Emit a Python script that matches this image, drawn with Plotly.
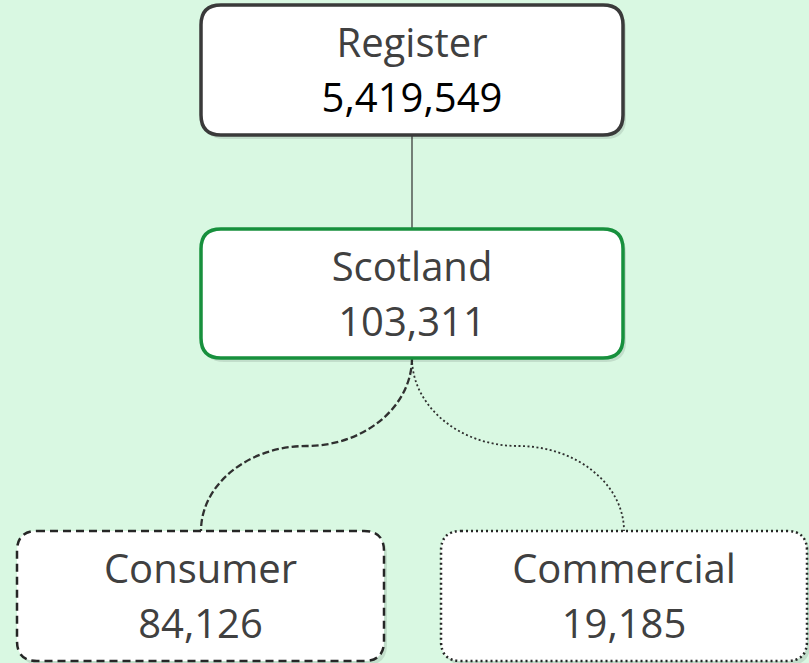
import plotly.graph_objects as go

# chart content
labels = ["Register", "Scotland", "Consumer", "Commercial"]
counts = [5419549, 103311, 84126, 19185]

W, H = 809, 663
BG = "#d9f8e2"
TXT = "#404040"

# box geometry in pixels (x0, y0, x1, y1)
boxes = [(201, 5, 623, 135), (201, 229, 623, 358), (17, 531, 384, 661), (441, 531, 807, 661)]
borders = [
    dict(color="#3a3a3a", width=3.5),
    dict(color="#17903d", width=3.5),
    dict(color="#262626", width=2.5, dash="8px,5px"),
    dict(color="#262626", width=2.5, dash="2px,3px"),
]
number_colors = ["#000000", TXT, TXT, TXT]


def rounded(x0, y0, x1, y1, r=20):
    return (f"M {x0+r},{y0} L {x1-r},{y0} Q {x1},{y0} {x1},{y0+r} "
            f"L {x1},{y1-r} Q {x1},{y1} {x1-r},{y1} "
            f"L {x0+r},{y1} Q {x0},{y1} {x0},{y1-r} "
            f"L {x0},{y0+r} Q {x0},{y0} {x0+r},{y0} Z")


def s_curve(x0, y0, x1, y1, ym):
    xm = (x0 + x1) / 2
    k = 0.55
    return (f"M {x0},{y0} C {x0},{y0 + k*(ym-y0)} {xm + k*(x0-xm)},{ym} {xm},{ym} "
            f"C {xm + k*(x1-xm)},{ym} {x1},{y1 - k*(y1-ym)} {x1},{y1}")


shapes = []

# connectors
shapes.append(dict(type="line", x0=412, y0=135, x1=412, y1=229,
                   line=dict(color="#303030", width=1.2), layer="below"))
shapes.append(dict(type="path", path=s_curve(412, 358, 201, 531, 446),
                   line=dict(color="#303030", width=2.3, dash="7px,3px"), layer="below"))
shapes.append(dict(type="path", path=s_curve(412, 358, 624, 531, 446),
                   line=dict(color="#303030", width=1.8, dash="2px,2.5px"), layer="below"))

for (x0, y0, x1, y1), ln in zip(boxes, borders):
    # soft shadow
    shapes.append(dict(type="path", path=rounded(x0 + 3, y0 + 4, x1 + 3, y1 + 4),
                       fillcolor="rgba(0,0,0,0.10)", line=dict(width=0), layer="below"))
    shapes.append(dict(type="path", path=rounded(x0, y0, x1, y1),
                       fillcolor="white", line=ln, layer="below"))

fig = go.Figure()

cx = [(b[0] + b[2]) / 2 for b in boxes]
fig.add_trace(go.Scatter(
    x=cx, y=[b[1] + 42 for b in boxes], mode="text", text=labels,
    textfont=dict(family="Open Sans", size=40, color=TXT),
    hoverinfo="skip", showlegend=False))
fig.add_trace(go.Scatter(
    x=cx, y=[b[1] + 97 for b in boxes], mode="text",
    text=[f"{c:,}" for c in counts],
    textfont=dict(family="Open Sans", size=40, color=number_colors),
    hoverinfo="skip", showlegend=False))

fig.update_layout(
    width=W, height=H,
    margin=dict(l=0, r=0, t=0, b=0),
    paper_bgcolor=BG, plot_bgcolor=BG,
    shapes=shapes,
    xaxis=dict(range=[0, W], visible=False, fixedrange=True),
    yaxis=dict(range=[H, 0], visible=False, fixedrange=True),
)

fig.write_html("out.html", config=dict(displayModeBar=False),
               post_script="document.body.style.margin='0';")
